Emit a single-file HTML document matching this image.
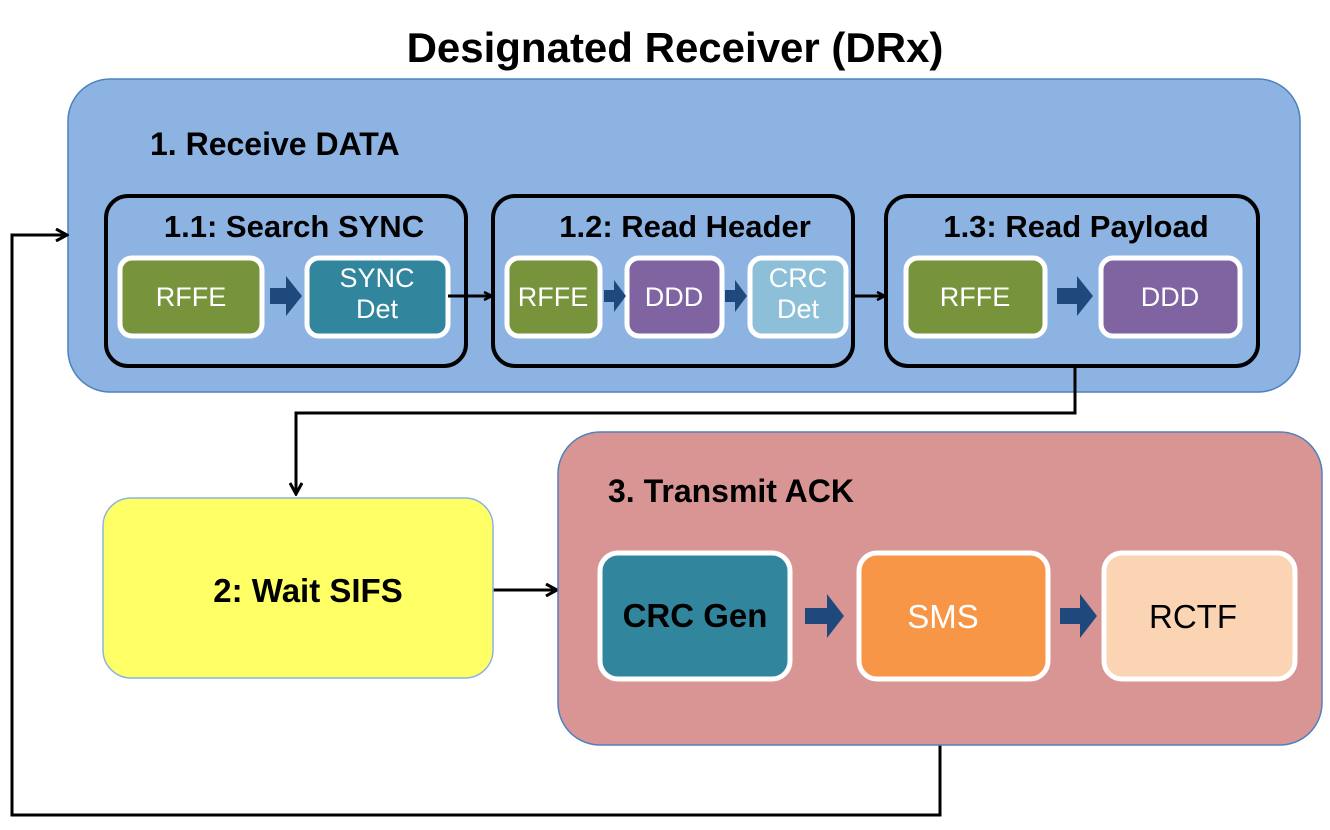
<!DOCTYPE html>
<html><head><meta charset="utf-8"><style>body{margin:0;background:#fff}svg{display:block}text{font-family:"Liberation Sans",sans-serif}</style></head><body>
<svg width="1330" height="830" viewBox="0 0 1330 830" xmlns="http://www.w3.org/2000/svg">
<defs>
<marker id="ah" markerWidth="10" markerHeight="10" refX="9" refY="5" orient="auto" markerUnits="userSpaceOnUse"><path d="M1,1 L9,5 L1,9" fill="none" stroke="#000" stroke-width="2.5"/></marker>
<marker id="ah2" markerWidth="14" markerHeight="14" refX="12" refY="7" orient="auto" markerUnits="userSpaceOnUse"><path d="M1,1 L12,7 L1,13" fill="none" stroke="#000" stroke-width="3"/></marker>
</defs>
<text x="675" y="62" text-anchor="middle" font-size="42" font-weight="bold">Designated Receiver (DRx)</text>
<rect x="68" y="79" width="1232" height="313" rx="42" fill="#8DB3E2" stroke="#4F81BD" stroke-width="1.5"/>
<text x="150" y="155" font-size="32" font-weight="bold">1. Receive DATA</text>
<g fill="none" stroke="#000" stroke-width="4">
<rect x="106" y="196" width="360" height="170" rx="22"/>
<rect x="493" y="196" width="360" height="170" rx="22"/>
<rect x="886" y="196" width="372" height="170" rx="22"/>
</g>
<g font-size="31" font-weight="bold" text-anchor="middle">
<text x="294" y="237">1.1: Search SYNC</text>
<text x="685" y="237">1.2: Read Header</text>
<text x="1076" y="237">1.3: Read Payload</text>
</g>
<g stroke="#fff" stroke-width="5">
<rect x="120" y="258" width="142" height="78" rx="12" fill="#77933C"/>
<rect x="307" y="258" width="141" height="78" rx="12" fill="#31859C"/>
<rect x="507" y="258" width="93" height="78" rx="12" fill="#77933C"/>
<rect x="627" y="258" width="95" height="78" rx="12" fill="#8064A2"/>
<rect x="750" y="258" width="96" height="78" rx="12" fill="#8DC0D8"/>
<rect x="906" y="258" width="139" height="78" rx="12" fill="#77933C"/>
<rect x="1101" y="258" width="139" height="78" rx="12" fill="#8064A2"/>
</g>
<g fill="#fff" font-size="27" text-anchor="middle">
<text x="191" y="306">RFFE</text>
<text x="377" y="287">SYNC</text><text x="377" y="318">Det</text>
<text x="553" y="306">RFFE</text>
<text x="674" y="306">DDD</text>
<text x="798" y="287">CRC</text><text x="798" y="318">Det</text>
<text x="975" y="306">RFFE</text>
<text x="1170" y="306">DDD</text>
</g>
<g fill="#1F497D">
<path d="M270,288 h16 v-12 l16,20 l-16,20 v-12 h-16z"/>
<path d="M604,290 h10 v-10 l12,16 l-12,16 v-10 h-10z"/>
<path d="M725,290 h10 v-10 l12,16 l-12,16 v-10 h-10z"/>
<path d="M1057,288 h20 v-12 l16,20 l-16,20 v-12 h-20z"/>
</g>
<g fill="none" stroke="#000" stroke-width="3">
<line x1="448" y1="296" x2="492" y2="296" marker-end="url(#ah)"/>
<line x1="853" y1="296" x2="885" y2="296" marker-end="url(#ah)"/>
<polyline points="1075,366 1075,413 296,413 296,494" marker-end="url(#ah2)"/>
<line x1="493" y1="590" x2="557" y2="590" marker-end="url(#ah2)"/>
<polyline points="940,745 940,815 12,815 12,235 67,235" marker-end="url(#ah2)"/>
</g>
<rect x="103" y="498" width="390" height="180" rx="28" fill="#FFFF66" stroke="#8DB3E2" stroke-width="1.5"/>
<text x="308" y="602" text-anchor="middle" font-size="33" font-weight="bold">2: Wait SIFS</text>
<rect x="558" y="432" width="764" height="313" rx="42" fill="#D99594" stroke="#4F81BD" stroke-width="1.5"/>
<text x="608" y="502" font-size="32" font-weight="bold">3. Transmit ACK</text>
<g stroke="#fff" stroke-width="5">
<rect x="600" y="553" width="190" height="126" rx="18" fill="#31859C"/>
<rect x="859" y="553" width="189" height="126" rx="18" fill="#F79646"/>
<rect x="1104" y="553" width="191" height="126" rx="18" fill="#FBD4B4"/>
</g>
<g fill="#1F497D">
<path d="M805,608 h22 v-14 l17,22 l-17,22 v-14 h-22z"/>
<path d="M1060,608 h20 v-14 l17,22 l-17,22 v-14 h-20z"/>
</g>
<g font-size="33" text-anchor="middle">
<text x="695" y="627" font-weight="bold">CRC Gen</text>
<text x="943" y="628" fill="#fff">SMS</text>
<text x="1193" y="628">RCTF</text>
</g>
</svg>
</body></html>
